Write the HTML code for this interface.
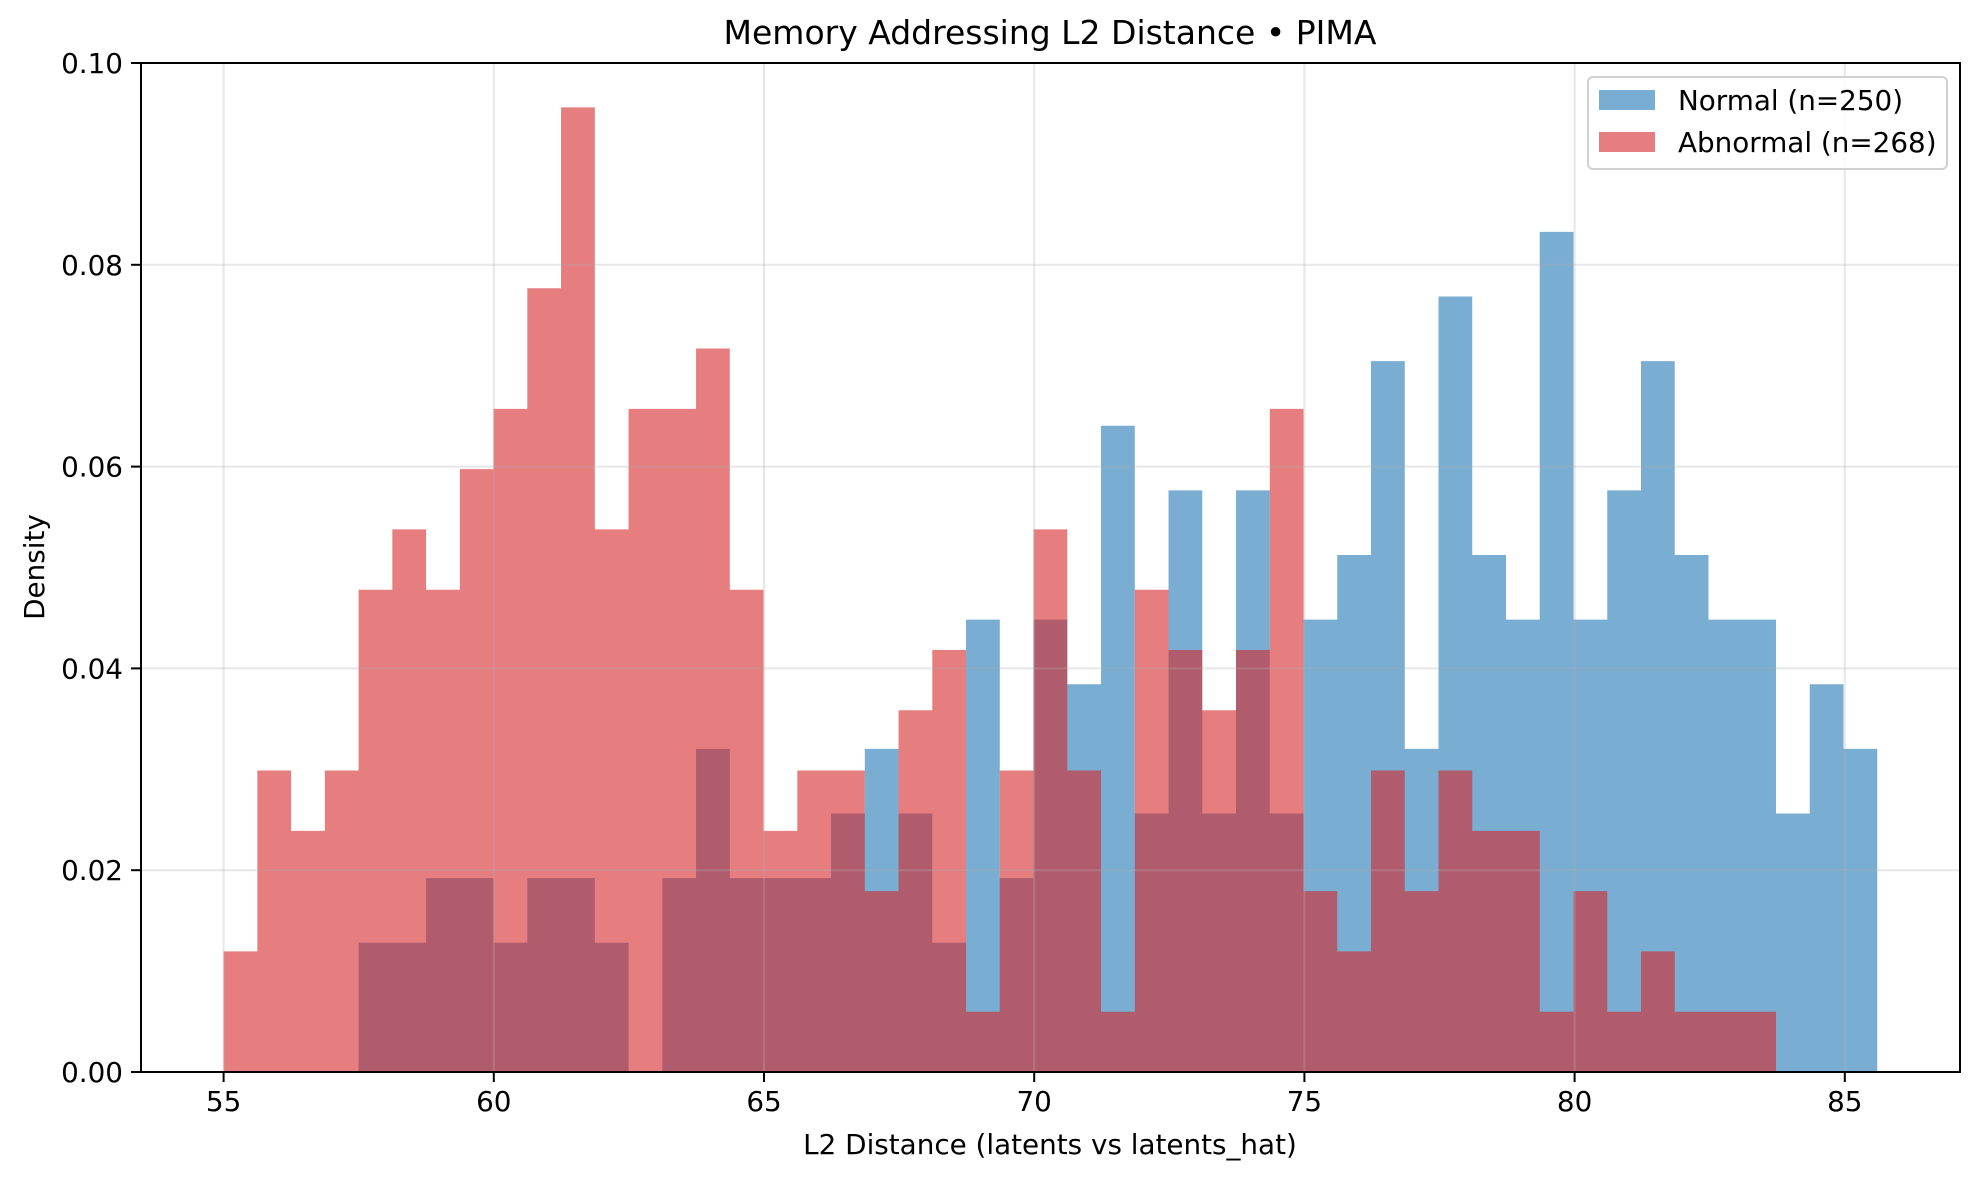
<!DOCTYPE html>
<html><head><meta charset="utf-8"><style>
html,body{margin:0;padding:0;background:#fff;}
svg{display:block;font-family:"DejaVu Sans","Liberation Sans",sans-serif;}
</style></head><body>
<svg id="chart" width="1979" height="1180" viewBox="0 0 1979 1180" xmlns="http://www.w3.org/2000/svg">
<rect width="1979" height="1180" fill="#fff"/>
<text x="1050" y="44" font-size="33" text-anchor="middle" fill="#000">Memory Addressing L2 Distance • PIMA</text>
<g id="bars"></g>
<g id="grid"></g>
<g id="axes"></g>
<text x="1050" y="1154" font-size="27.8" text-anchor="middle">L2 Distance (latents vs latents_hat)</text>
<text transform="translate(44,567) rotate(-90)" font-size="27.8" text-anchor="middle">Density</text>
<g>
<rect x="1588" y="77" width="359" height="92" rx="5" fill="rgba(255,255,255,0.8)" stroke="#d0d0d0" stroke-width="2"/>
<rect x="1599" y="90" width="56" height="20" fill="rgba(31,119,180,0.6)"/>
<text x="1678" y="110" font-size="27.8">Normal (n=250)</text>
<rect x="1599" y="132" width="56" height="20" fill="rgba(214,39,40,0.6)"/>
<text x="1678" y="152" font-size="27.8">Abnormal (n=268)</text>
</g>
</svg>
<script>
const binStart = 55.0;
const binEnd = 85.6;
const normalCounts = [0,0,0,0,2,2,3,3,2,3,3,2,0,3,5,3,3,3,4,5,4,2,7,3,7,6,10,4,9,4,9,4,7,8,11,5,12,8,7,13,7,9,11,8,7,7,4,6,5];
const abnormalCounts = [2,5,4,5,8,9,8,10,11,13,16,9,11,11,12,8,4,5,5,3,6,7,1,5,9,5,1,8,7,6,7,11,3,2,5,3,5,4,4,1,3,1,2,1,1,1,0,0,0];
const normalN = 250;
const abnormalN = 268;
const xTicks = [55,60,65,70,75,80,85];
const yTicks = [0,0.02,0.04,0.06,0.08,0.10];
const yTickLabels = ["0.00","0.02","0.04","0.06","0.08","0.10"];

const L=141,R=1960,T=63,B=1072;
function X(v){return 1304.4+(v-75)*54.04;}
function Y(v){return B-(v-0)/(0.10)*(B-T);}
const NS='http://www.w3.org/2000/svg';
function mk(tag,attrs,parent){const e=document.createElementNS(NS,tag);for(const k in attrs)e.setAttribute(k,attrs[k]);parent.appendChild(e);return e;}
const nb=normalCounts.length;
const bw=(binEnd-binStart)/nb;
const bars=document.getElementById('bars');
function drawSeries(counts,n,color,name){
  let d='M'+X(binStart)+','+B;
  for(let i=0;i<counts.length;i++){
    const y=Y(counts[i]/(n*bw));
    d+=' L'+X(binStart+i*bw)+','+y+' L'+X(binStart+(i+1)*bw)+','+y;
  }
  d+=' L'+X(binStart+counts.length*bw)+','+B+' Z';
  const p=mk('path',{d:d,fill:color},bars);
  
  
}
drawSeries(normalCounts,normalN,'rgba(31,119,180,0.6)','normal');
drawSeries(abnormalCounts,abnormalN,'rgba(214,39,40,0.6)','abnormal');
const grid=document.getElementById('grid');
xTicks.forEach(t=>{const g=mk('line',{x1:X(t),x2:X(t),y1:T,y2:B,stroke:'rgba(176,176,176,0.3)','stroke-width':2},grid);

});
yTicks.forEach(t=>{const g=mk('line',{x1:L,x2:R,y1:Y(t),y2:Y(t),stroke:'rgba(176,176,176,0.3)','stroke-width':2},grid);

});
const axes=document.getElementById('axes');
const fr=mk('rect',{x:L,y:T,width:R-L,height:B-T,fill:'none',stroke:'#000','stroke-width':2},axes);


xTicks.forEach(t=>{
  mk('line',{x1:X(t),x2:X(t),y1:B,y2:B+10,stroke:'#000','stroke-width':2},axes);
  const tx=mk('text',{x:X(t),y:B+39,'font-size':27.8,'text-anchor':'middle'},axes);
  tx.textContent=t;
  
  
});
yTicks.forEach((t,i)=>{
  mk('line',{x1:L-10,x2:L,y1:Y(t),y2:Y(t),stroke:'#000','stroke-width':2},axes);
  const tx=mk('text',{x:L-18,y:Y(t)+10,'font-size':27.8,'text-anchor':'end'},axes);
  tx.textContent=yTickLabels[i];
  
  
});
</script>
</body></html>
